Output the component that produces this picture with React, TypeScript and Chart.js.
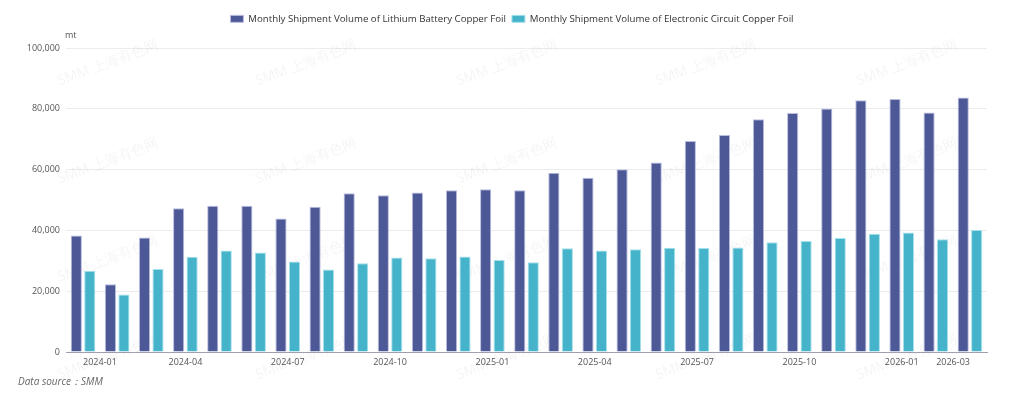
import React, { useEffect, useRef } from "react";
import { Chart, registerables } from "chart.js";

Chart.register(...registerables);

const months = [
  "2024-01", "2024-02", "2024-03", "2024-04", "2024-05", "2024-06", "2024-07", "2024-08", "2024-09",
  "2024-10", "2024-11", "2024-12", "2025-01", "2025-02", "2025-03", "2025-04", "2025-05", "2025-06",
  "2025-07", "2025-08", "2025-09", "2025-10", "2025-11", "2025-12", "2026-01", "2026-02", "2026-03",
];

const lithiumFoil = [
  38300, 22300, 37700, 47300, 48100, 48100, 43900, 47800, 52200,
  51600, 52500, 53200, 53500, 53200, 59000, 57300, 60100, 62300,
  69400, 71400, 76600, 78600, 80100, 82800, 83200, 78800, 83700,
];

const circuitFoil = [
  26700, 18900, 27300, 31300, 33400, 32700, 29800, 27100, 29200,
  31100, 30800, 31400, 30300, 29500, 34100, 33400, 33800, 34300,
  34200, 34400, 36100, 36500, 37500, 38900, 39300, 37100, 40100,
];

const seriesNames = [
  "Monthly Shipment Volume of Lithium Battery Copper Foil",
  "Monthly Shipment Volume of Electronic Circuit Copper Foil",
];

const yMax = 100000;
const yStep = 20000;
const unitLabel = "mt";
const sourceLabel = "Data source：SMM";
const watermark = "SMM 上海有色网";

const FONT = "'Open Sans', 'Noto Sans', sans-serif";

export default function App() {
  const canvasRef = useRef<HTMLCanvasElement | null>(null);

  useEffect(() => {
    document.body.style.margin = "0";
    const canvas = canvasRef.current;
    if (!canvas) return;

    const legendHeight = {
      id: "legendHeight",
      beforeInit(chart: any) {
        const legend = chart.legend;
        if (!legend) return;
        const origFit = legend.fit;
        legend.fit = function () {
          origFit.bind(legend)();
          this.height = 40;
        };
      },
      afterLayout(chart: any) {
        const legend = chart.legend;
        if (!legend) return;
        legend.left = 0;
        legend.right = chart.width;
        legend.width = chart.width;
      },
    };

    const extras = {
      id: "extras",
      beforeDatasetsDraw(chart: any) {
        const ctx = chart.ctx;
        ctx.save();
        ctx.font = `14px ${FONT}`;
        ctx.fillStyle = "rgba(0,0,0,0.045)";
        ctx.textAlign = "center";
        ctx.textBaseline = "middle";
        const cols = [108, 306, 507, 706, 907];
        const rows = [63, 161, 259, 357];
        for (const cx of cols) {
          for (const cy of rows) {
            ctx.save();
            ctx.translate(cx, cy);
            ctx.rotate(-0.36);
            ctx.fillText(watermark, 0, 0);
            ctx.restore();
          }
        }
        ctx.restore();
      },
      afterDraw(chart: any) {
        const ctx = chart.ctx;
        ctx.save();
        ctx.fillStyle = "#555";
        ctx.font = `9px ${FONT}`;
        ctx.textAlign = "left";
        ctx.textBaseline = "middle";
        ctx.fillText(unitLabel, 65, 35);
        ctx.fillStyle = "#666";
        ctx.font = `italic 10px ${FONT}`;
        ctx.fillText(sourceLabel, 18, 382);
        ctx.restore();
      },
    };

    const chart = new Chart(canvas, {
      type: "bar",
      data: {
        labels: months,
        datasets: [
          {
            label: seriesNames[0],
            data: lithiumFoil,
            backgroundColor: "#4d5997",
            borderColor: "#b9bde0",
            borderWidth: 1,
            categoryPercentage: 0.79,
            barPercentage: 0.83,
          },
          {
            label: seriesNames[1],
            data: circuitFoil,
            backgroundColor: "#45b4cb",
            borderColor: "#a6e0ec",
            borderWidth: 1,
            categoryPercentage: 0.79,
            barPercentage: 0.83,
          },
        ],
      },
      options: {
        responsive: false,
        animation: false,
        maintainAspectRatio: false,
        layout: { padding: { left: 0, right: 37, top: 8, bottom: 0 } },
        plugins: {
          legend: {
            position: "top",
            labels: {
              boxWidth: 13,
              boxHeight: 7,
              padding: 6,
              color: "#333",
              font: { family: FONT, size: 9.7 },
            },
          },
          tooltip: { enabled: false },
        },
        scales: {
          x: {
            grid: { display: false, drawTicks: false },
            border: { display: true, color: "#9ea2b0", width: 1 },
            ticks: {
              autoSkip: false,
              maxRotation: 0,
              minRotation: 0,
              align: "inner",
              padding: 5,
              color: "#555",
              font: { family: FONT, size: 9 },
              callback: function (_v: any, i: number) {
                return i % 3 === 0 || i === months.length - 1 ? months[i] : "";
              },
            },
            afterFit(scale: any) {
              scale.height = 47;
            },
          },
          y: {
            min: 0,
            max: yMax,
            grid: { color: "#ececec", drawTicks: false },
            border: { display: false },
            ticks: {
              stepSize: yStep,
              padding: 6,
              color: "#555",
              font: { family: FONT, size: 9 },
              callback: (v: any) => Number(v).toLocaleString("en-US"),
            },
            afterFit(scale: any) {
              scale.width = 66;
            },
          },
        },
      },
      plugins: [legendHeight, extras],
    });

    return () => chart.destroy();
  }, []);

  return (
    <div style={{ width: 1024, height: 399, background: "#fff" }}>
      <canvas ref={canvasRef} width={1024} height={399} style={{ display: "block" }} />
    </div>
  );
}
